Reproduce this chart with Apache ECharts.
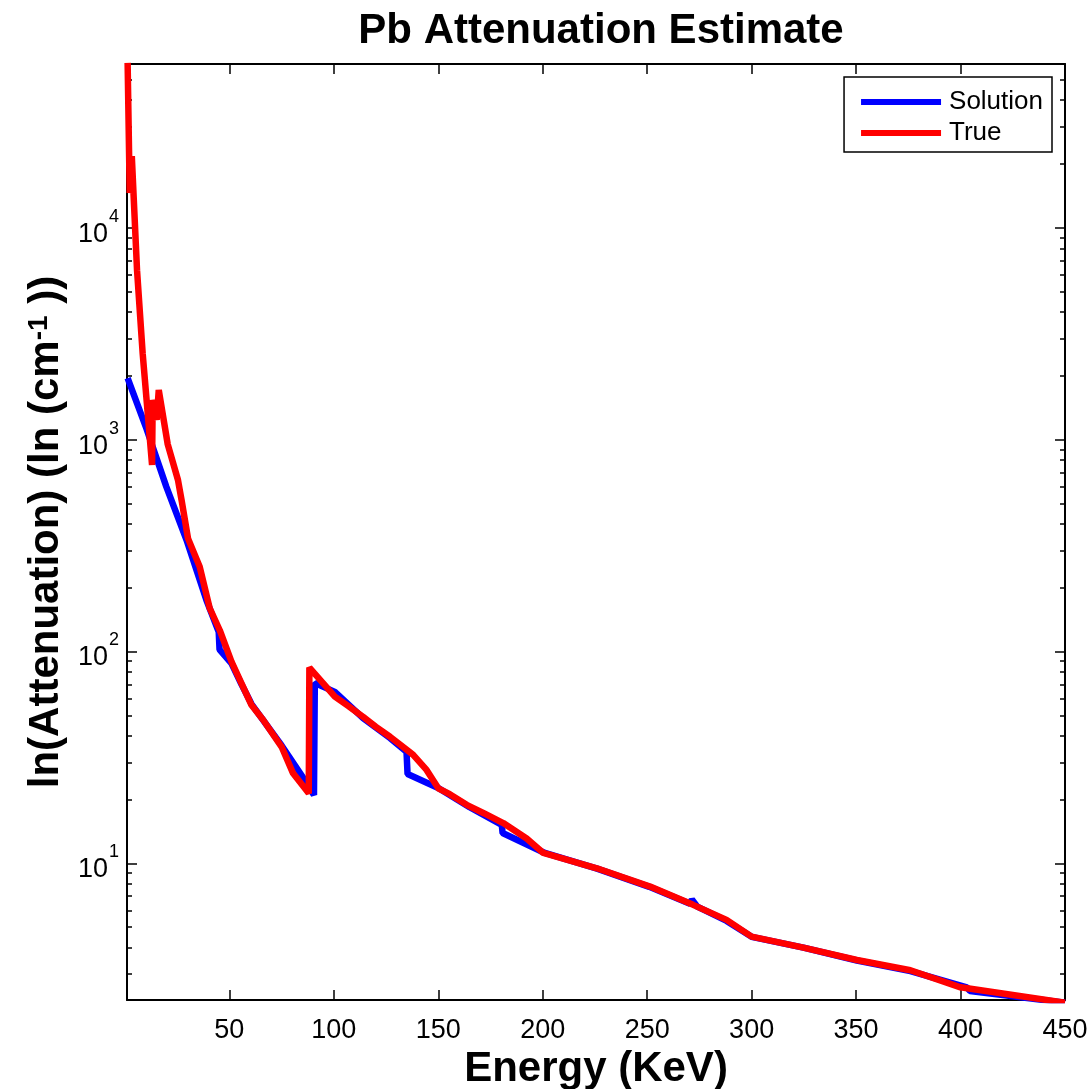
<!DOCTYPE html>
<html>
<head>
<meta charset="utf-8">
<script src="https://cdn.jsdelivr.net/npm/echarts@6/dist/echarts.min.js"></script>
<style>
  html, body { margin: 0; padding: 0; background: #fff; }
  #chart { width: 1091px; height: 1089px; }
</style>
</head>
<body>
<div id="chart"></div>
<script>
// True attenuation (red)
const energyTrue = [1.3, 2.3, 3.3, 5.8, 8.5, 13, 13.3, 15.2, 16.2, 20.5, 25.4, 27.1, 30.2, 35.8, 40.6, 45.4, 51, 55.8, 60.6, 66.2, 75, 80.5, 88, 88.3, 100.5, 107, 114, 120, 126.9, 132, 138, 144.4, 150, 155.5, 163.6, 172, 181.1, 192.3, 200.3, 225.9, 251.4, 272, 288, 300, 324.8, 350.4, 376, 400, 450];
const attenTrue = [60000, 14600, 21800, 6310, 2550, 760, 1540, 1240, 1714, 950, 645, 520, 342, 251, 160, 126, 89.5, 70.8, 55.9, 47.5, 35.5, 26.6, 21.4, 84, 61.2, 55.2, 49.2, 44.2, 39.6, 36.2, 32.5, 27.6, 22.6, 21.2, 18.9, 17.2, 15.5, 13.1, 11.2, 9.48, 7.77, 6.37, 5.41, 4.51, 4.0, 3.50, 3.13, 2.60, 2.20];

// Solution estimate (blue)
const energySol = [1.3, 10, 19.8, 29.5, 39, 44.9, 45.3, 51, 55.8, 60.6, 75, 86, 90.5, 90.9, 100.5, 114, 127, 134.8, 135.3, 150, 165, 180.4, 180.8, 201, 226, 251, 270.5, 271.4, 274, 288, 300, 324.8, 350.4, 376, 403, 404.5, 450];
const attenSol = [1950, 1150, 600, 336, 175, 124, 102, 88, 70, 56.5, 36, 24.8, 21.0, 71, 64.5, 48.5, 39, 33.6, 26.4, 22.7, 18.4, 15.2, 13.9, 11.2, 9.45, 7.75, 6.45, 6.75, 6.25, 5.35, 4.5, 4.0, 3.48, 3.1, 2.6, 2.5, 2.2];

const xTicks = [50, 100, 150, 200, 250, 300, 350, 400, 450];
const yMajor = [10, 100, 1000, 10000];
const yMinor = [3, 4, 5, 6, 7, 8, 9, 20, 30, 40, 50, 60, 70, 80, 90, 200, 300, 400, 500, 600, 700, 800, 900,
  2000, 3000, 4000, 5000, 6000, 7000, 8000, 9000, 20000, 30000, 40000, 50000];

const xMin = 1, xMax = 450;
const yMin = 2.265, yMax = 59300;

let font = 'Liberation Sans, Arial, sans-serif';

function yAxisBase (pos, ticks, len, showLine) {
  return {
    type: 'log',
    position: pos,
    min: yMin,
    max: yMax,
    logBase: 10,
    axisLine: { show: showLine, lineStyle: { color: '#000', width: 2 } },
    axisTick: { show: true, inside: true, length: len, customValues: ticks, lineStyle: { color: '#000', width: 1.5 } },
    axisLabel: { show: false },
    splitLine: { show: false },
    minorTick: { show: false }
  };
}

const leftMajor = yAxisBase('left', yMajor, 10, true);
leftMajor.axisLabel = {
  show: true,
  customValues: yMajor,
  margin: 8,
  formatter: function (v) {
    return '{b|10}{s|' + Math.round(Math.log10(v)) + '}';
  },
  rich: {
    b: { fontSize: 27, fontFamily: font, color: '#000', lineHeight: 40, verticalAlign: 'bottom' },
    s: { fontSize: 18, fontFamily: font, color: '#000', lineHeight: 40, verticalAlign: 'top', padding: [0, 0, 0, 1] }
  }
};
leftMajor.name = 'ln(Attenuation) (ln (cm{s|-1} ))';
leftMajor.nameLocation = 'middle';
leftMajor.nameGap = 56;
leftMajor.nameRotate = 90;
leftMajor.nameTextStyle = {
  fontSize: 42, fontWeight: 'bold', fontFamily: font, color: '#000',
  rich: {
    s: { fontSize: 28, fontWeight: 'bold', fontFamily: font, color: '#000', verticalAlign: 'top', lineHeight: 42 }
  }
};

const option = {
  animation: false,
  backgroundColor: '#fff',
  title: {
    text: 'Pb Attenuation Estimate',
    left: 596,
    top: 5,
    textAlign: 'center',
    textStyle: { fontSize: 42, fontWeight: 'bold', fontFamily: font, color: '#000' }
  },
  grid: { left: 127, top: 64, right: 26, bottom: 89, containLabel: false, outerBoundsMode: 'none' },
  legend: {
    orient: 'vertical',
    right: 39,
    top: 77,
    padding: [12, 9, 6, 17],
    itemGap: 5,
    itemWidth: 80,
    itemHeight: 6,
    icon: 'rect',
    borderColor: '#000',
    borderWidth: 1.5,
    backgroundColor: '#fff',
    textStyle: { fontSize: 26, fontFamily: font, color: '#000', padding: [0, 0, 0, 3] },
    data: ['Solution', 'True']
  },
  xAxis: [{
    type: 'value',
    position: 'bottom',
    min: xMin,
    max: xMax,
    name: 'Energy (KeV)',
    nameLocation: 'middle',
    nameGap: 46,
    nameTextStyle: { fontSize: 42, fontWeight: 'bold', fontFamily: font, color: '#000' },
    axisLine: { lineStyle: { color: '#000', width: 2 } },
    axisTick: { inside: true, length: 10, customValues: xTicks, lineStyle: { color: '#000', width: 1.5 } },
    axisLabel: { customValues: xTicks, fontSize: 27, fontFamily: font, color: '#000', margin: 17 },
    splitLine: { show: false }
  }, {
    type: 'value',
    position: 'top',
    min: xMin,
    max: xMax,
    axisLine: { lineStyle: { color: '#000', width: 2 } },
    axisTick: { inside: true, length: 10, customValues: xTicks, lineStyle: { color: '#000', width: 1.5 } },
    axisLabel: { show: false },
    splitLine: { show: false }
  }],
  yAxis: [
    leftMajor,
    yAxisBase('left', yMinor, 5, false),
    yAxisBase('right', yMajor, 10, true),
    yAxisBase('right', yMinor, 5, false)
  ],
  series: [{
    name: 'Solution',
    type: 'line',
    xAxisIndex: 0,
    yAxisIndex: 0,
    showSymbol: false,
    symbol: 'none',
    color: '#0000ff',
    lineStyle: { color: '#0000ff', width: 6.5 },
    data: energySol.map((e, i) => [e, attenSol[i]])
  }, {
    name: 'True',
    type: 'line',
    xAxisIndex: 0,
    yAxisIndex: 0,
    showSymbol: false,
    symbol: 'none',
    color: '#ff0000',
    lineStyle: { color: '#ff0000', width: 6.5 },
    data: energyTrue.map((e, i) => [e, attenTrue[i]])
  }]
};

var chart = echarts.init(document.getElementById('chart'));
chart.setOption(option);
</script>
</body>
</html>
